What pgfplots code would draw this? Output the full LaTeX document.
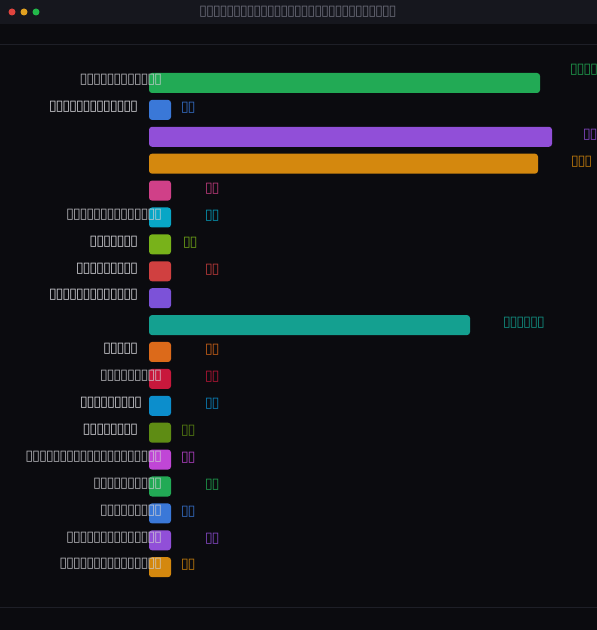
\documentclass[border=0pt]{standalone}
\usepackage{pgfplots}
\pgfplotsset{compat=1.18}
\usepackage{fontspec}
\setmainfont{DejaVu Sans}
\newfontfamily\tofufont{DejaVu Sans}
\definecolor{bodybg}{HTML}{0B0B0F}
\definecolor{titlebg}{HTML}{16171E}
\definecolor{linecol}{HTML}{1E1F27}
\definecolor{titlegray}{HTML}{6A6B78}
\definecolor{labelgray}{HTML}{CDCDD2}
\definecolor{tlred}{HTML}{E0443E}
\definecolor{tlyellow}{HTML}{E0A020}
\definecolor{tlgreen}{HTML}{22B84A}
\definecolor{c1}{HTML}{22AA55}
\definecolor{c2}{HTML}{3A78D8}
\definecolor{c3}{HTML}{914FD8}
\definecolor{c4}{HTML}{D4880E}
\definecolor{c5}{HTML}{D04088}
\definecolor{c6}{HTML}{08A6C6}
\definecolor{c7}{HTML}{78B21A}
\definecolor{c8}{HTML}{D04040}
\definecolor{c9}{HTML}{7C52D8}
\definecolor{c10}{HTML}{14A090}
\definecolor{c11}{HTML}{DC6A1A}
\definecolor{c12}{HTML}{C8183C}
\definecolor{c13}{HTML}{0C8ECC}
\definecolor{c14}{HTML}{5E8C14}
\definecolor{c15}{HTML}{C046D6}
\newcommand\T{\makebox[6.77bp]{\tofufont\fontsize{14.5bp}{15bp}\selectfont\char"25AF}}
\newcommand\tf[1]{\foreach\k in {1,...,#1}{\T}}
\begin{document}
\begin{tikzpicture}[x=1bp,y=1bp]
\useasboundingbox (0,0) rectangle (597,630);
\clip (0,0) rectangle (597,630);
\fill[bodybg] (0,0) rectangle (597,630);
\fill[titlebg] (0,606) rectangle (597,630);
\draw[linecol, line width=0.8bp] (0,586) -- (597,586);
\draw[linecol, line width=0.8bp] (0,23) -- (597,23);
\fill[tlred] (12,618) circle (3.5);
\fill[tlyellow] (24,618) circle (3.5);
\fill[tlgreen] (36,618) circle (3.5);
\node[text=titlegray, inner sep=0] at (298,618) {\tf{29}};
\begin{axis}[at={(149bp,560.45bp)}, anchor=north west, scale only axis,
  width=448bp, height=511.1bp, xmin=0, xmax=448, ymin=0.5, ymax=19.5,
  y dir=reverse, hide axis, clip=false, xbar, bar width=20bp, bar shift=0pt,
  every axis plot/.append style={draw=none, rounded corners=3bp}]
\addplot[fill=c1] coordinates {(391,1)};
\addplot[fill=c2] coordinates {(22,2)};
\addplot[fill=c3] coordinates {(403,3)};
\addplot[fill=c4] coordinates {(389,4)};
\addplot[fill=c5] coordinates {(22,5)};
\addplot[fill=c6] coordinates {(22,6)};
\addplot[fill=c7] coordinates {(22,7)};
\addplot[fill=c8] coordinates {(22,8)};
\addplot[fill=c9] coordinates {(22,9)};
\addplot[fill=c10] coordinates {(321,10)};
\addplot[fill=c11] coordinates {(22,11)};
\addplot[fill=c12] coordinates {(22,12)};
\addplot[fill=c13] coordinates {(22,13)};
\addplot[fill=c14] coordinates {(22,14)};
\addplot[fill=c15] coordinates {(22,15)};
\addplot[fill=c1] coordinates {(22,16)};
\addplot[fill=c2] coordinates {(22,17)};
\addplot[fill=c3] coordinates {(22,18)};
\addplot[fill=c4] coordinates {(22,19)};
% category labels
\pgfplotsset{every node/.append style={inner sep=0}}
\node[anchor=east, text=labelgray, yshift=3bp, opacity=0.85] at (axis cs:16,1) {\tf{12}};
\node[anchor=east, text=labelgray, yshift=3bp] at (axis cs:-8,2) {\tf{13}};
\node[anchor=east, text=labelgray, yshift=3bp, opacity=0.85] at (axis cs:16,6) {\tf{14}};
\node[anchor=east, text=labelgray, yshift=3bp] at (axis cs:-8,7) {\tf{7}};
\node[anchor=east, text=labelgray, yshift=3bp] at (axis cs:-8,8) {\tf{9}};
\node[anchor=east, text=labelgray, yshift=3bp] at (axis cs:-8,9) {\tf{13}};
\node[anchor=east, text=labelgray, yshift=3bp] at (axis cs:-8,11) {\tf{5}};
\node[anchor=east, text=labelgray, yshift=3bp, opacity=0.85] at (axis cs:16,12) {\tf{9}};
\node[anchor=east, text=labelgray, yshift=3bp] at (axis cs:-4,13) {\tf{9}};
\node[anchor=east, text=labelgray, yshift=3bp] at (axis cs:-8,14) {\tf{8}};
\node[anchor=east, text=labelgray, yshift=3bp, opacity=0.85] at (axis cs:16,15) {\tf{20}};
\node[anchor=east, text=labelgray, yshift=3bp, opacity=0.85] at (axis cs:16,16) {\tf{10}};
\node[anchor=east, text=labelgray, yshift=3bp, opacity=0.85] at (axis cs:16,17) {\tf{9}};
\node[anchor=east, text=labelgray, yshift=3bp, opacity=0.85] at (axis cs:16,18) {\tf{14}};
\node[anchor=east, text=labelgray, yshift=3bp, opacity=0.85] at (axis cs:16,19) {\tf{15}};
% value labels
\node[anchor=west, text=c1!90!black, yshift=13bp] at (axis cs:418,1) {\tf{4}};
\node[anchor=west, text=c2!90!black, yshift=2bp] at (axis cs:29,2) {\tf{2}};
\node[anchor=west, text=c3!90!black, yshift=2bp] at (axis cs:431,3) {\tf{2}};
\node[anchor=west, text=c4!90!black, yshift=2bp] at (axis cs:419,4) {\tf{3}};
\node[anchor=west, text=c5!90!black, yshift=2bp] at (axis cs:53,5) {\tf{2}};
\node[anchor=west, text=c6!90!black, yshift=2bp] at (axis cs:53,6) {\tf{2}};
\node[anchor=west, text=c7!90!black, yshift=2bp] at (axis cs:31,7) {\tf{2}};
\node[anchor=west, text=c8!90!black, yshift=2bp] at (axis cs:53,8) {\tf{2}};
\node[anchor=west, text=c10!90!black, yshift=2bp] at (axis cs:351,10) {\tf{6}};
\node[anchor=west, text=c11!90!black, yshift=2bp] at (axis cs:53,11) {\tf{2}};
\node[anchor=west, text=c12!90!black, yshift=2bp] at (axis cs:53,12) {\tf{2}};
\node[anchor=west, text=c13!90!black, yshift=2bp] at (axis cs:53,13) {\tf{2}};
\node[anchor=west, text=c14!90!black, yshift=2bp] at (axis cs:29,14) {\tf{2}};
\node[anchor=west, text=c15!90!black, yshift=2bp] at (axis cs:29,15) {\tf{2}};
\node[anchor=west, text=c1!90!black, yshift=2bp] at (axis cs:53,16) {\tf{2}};
\node[anchor=west, text=c2!90!black, yshift=2bp] at (axis cs:29,17) {\tf{2}};
\node[anchor=west, text=c3!90!black, yshift=2bp] at (axis cs:53,18) {\tf{2}};
\node[anchor=west, text=c4!90!black, yshift=2bp] at (axis cs:29,19) {\tf{2}};
\end{axis}
\end{tikzpicture}
\end{document}
